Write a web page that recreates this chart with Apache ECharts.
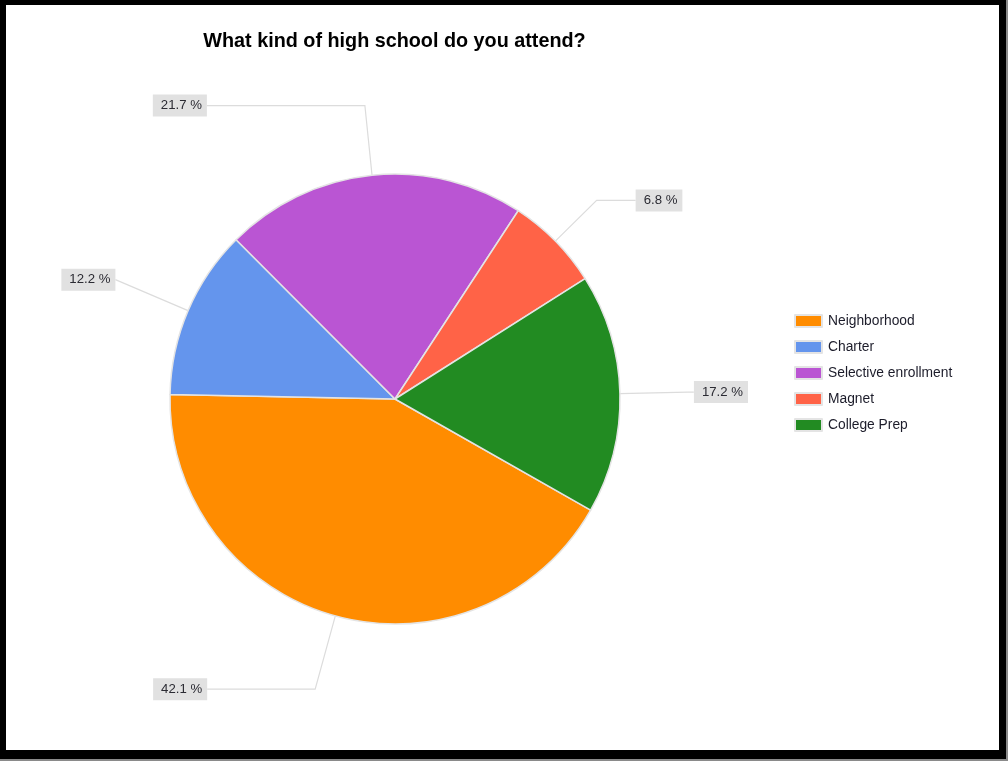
<!DOCTYPE html>
<html>
<head>
<meta charset="utf-8">
<title>What kind of high school do you attend?</title>
<script src="https://cdn.jsdelivr.net/npm/echarts@6/dist/echarts.min.js"></script>
<style>
  html, body { margin: 0; padding: 0; background: #fff; }
  #shadow { position: absolute; left: 0; top: 0; width: 1008px; height: 761px; background: #8a8a8a; }
  #border { position: absolute; left: 0; top: 0; width: 1006px; height: 759px; background: #000; }
  #panel  { position: absolute; left: 6px; top: 5px; width: 993px; height: 745px; background: #fff; }
  #chart  { position: absolute; left: 0; top: 0; width: 1008px; height: 761px; }
</style>
</head>
<body>
<div id="shadow"></div>
<div id="border"></div>
<div id="panel"></div>
<div id="chart"></div>
<script>
// Survey answers: school type and share of respondents (%)
const categories = ['Neighborhood', 'Charter', 'Selective enrollment', 'Magnet', 'College Prep'];
const shares = [42.1, 12.2, 21.7, 6.8, 17.2];
const colors = ['#FF8C00', '#6495ED', '#BA55D3', '#FF6347', '#228B22'];

// Leader line lengths for each slice label (radial part, horizontal part)
const leadRadial = [76, 79, 70, 58, 68];
const leadHorizontal = [108, 0, 158, 39, 6];

const chart = echarts.init(document.getElementById('chart'), null, { renderer: 'canvas' });

const FONT = "'Liberation Sans', Arial, sans-serif";

chart.setOption({
  animation: false,
  color: colors,
  title: {
    text: 'What kind of high school do you attend?',
    left: 394.5,
    top: 32,
    padding: 0,
    textAlign: 'center',
    textStyle: { fontFamily: FONT, fontSize: 19.8, fontWeight: 'bold', color: '#000' }
  },
  legend: {
    orient: 'vertical',
    left: 794,
    top: 314,
    padding: 0,
    itemWidth: 27,
    itemHeight: 12,
    itemGap: 12,
    icon: 'rect',
    selectedMode: false,
    textStyle: { fontFamily: FONT, fontSize: 13.8, color: '#1c1c2a', lineHeight: 14, padding: [0, 0, 0, 1] }
  },
  series: [{
    type: 'pie',
    center: [395, 399],
    radius: 225,
    startAngle: -29.6,
    clockwise: true,
    avoidLabelOverlap: false,
    itemStyle: { borderColor: '#e4e4e4', borderWidth: 1.5 },
    emphasis: { disabled: true },
    label: {
      show: true,
      position: 'outside',
      alignTo: 'none',
      distanceToLabelLine: 0,
      formatter: p => p.value.toFixed(1) + ' %',
      fontFamily: FONT,
      fontSize: 13.2,
      lineHeight: 13,
      color: '#2b2b33',
      backgroundColor: '#e1e1e1',
      padding: [5, 5, 4, 8]
    },
    labelLine: {
      show: true,
      smooth: false,
      lineStyle: { color: '#dcdcdc', width: 1.2 }
    },
    data: categories.map((name, i) => ({
      name,
      value: shares[i],
      labelLine: { length: leadRadial[i], length2: leadHorizontal[i] }
    }))
  }]
});
</script>
</body>
</html>
